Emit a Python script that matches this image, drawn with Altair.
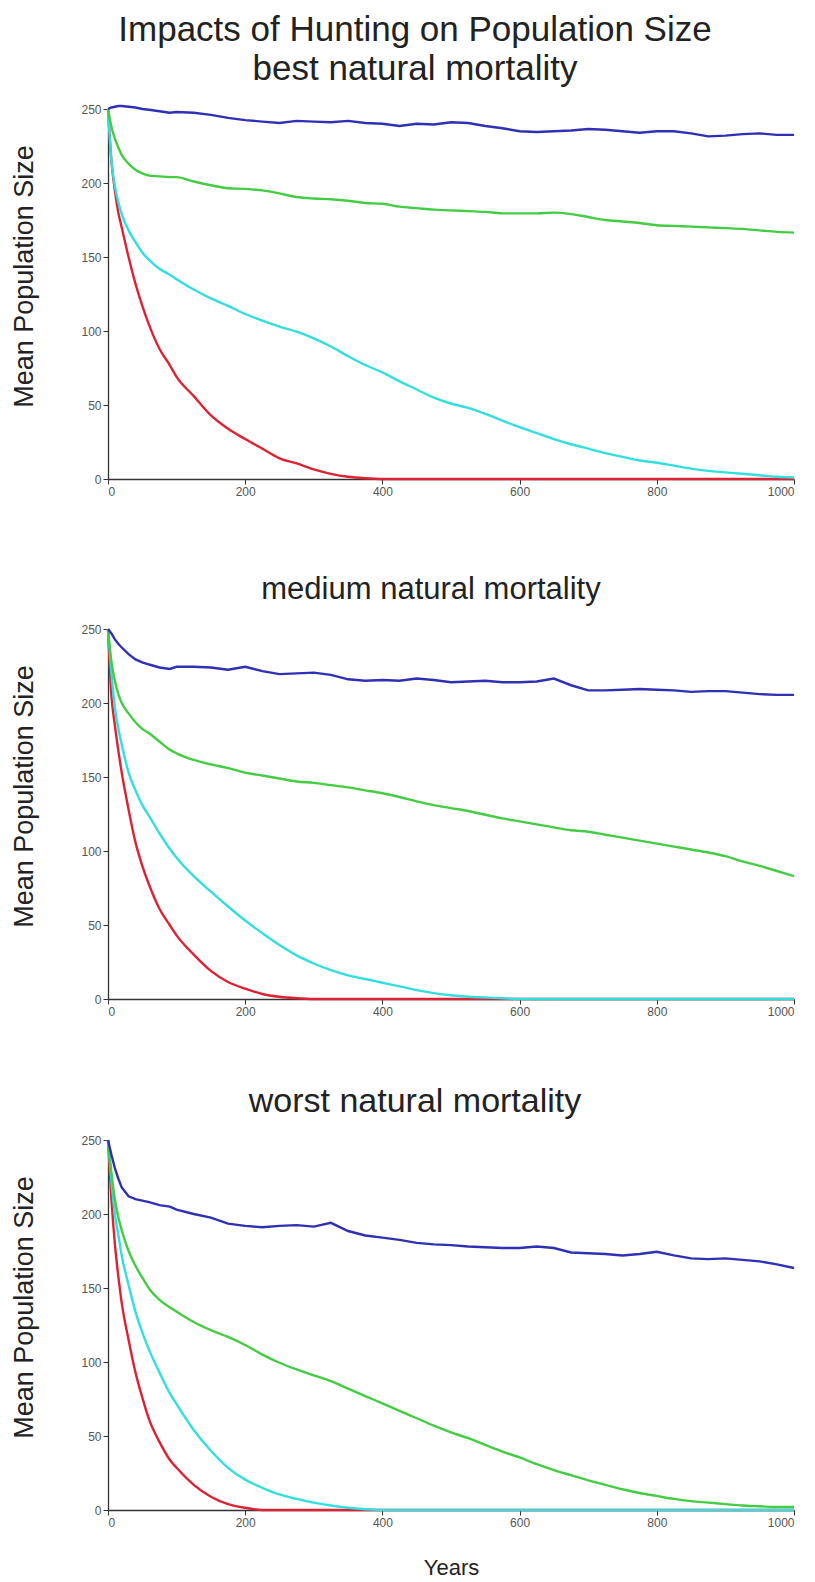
import altair as alt
import pandas as pd

YEARS = [0, 5, 10, 15, 20, 30, 40, 50, 60, 75, 90, 100,
         125, 150, 175, 200, 225, 250, 275, 300, 325, 350, 375, 400,
         425, 450, 475, 500, 525, 550, 575, 600, 625, 650, 675, 700,
         725, 750, 775, 800, 825, 850, 875, 900, 925, 950, 975, 1000]

X_TICKS = [0, 200, 400, 600, 800, 1000]
Y_TICKS = [0, 50, 100, 150, 200, 250]

TITLES = [["Impacts of Hunting on Population Size", "best natural mortality"],
          "medium natural mortality",
          "worst natural mortality"]

# ---------- best natural mortality ----------
BEST_BLUE = [250, 251, 251.5, 252, 252, 251.5, 251, 250, 249.5, 248.5, 247.5, 248,
             247.5, 246, 244, 242.5, 241.5, 240.5, 242, 241.5, 241, 242, 240.5, 240,
             238.5, 240, 239.5, 241, 240.5, 238.5, 237, 235, 234.5, 235, 235.5, 236.5,
             236, 235, 234, 235, 235, 233.5, 231.5, 232, 233, 233.5, 232.5, 232.5]
BEST_GREEN = [250, 238, 230, 224, 219, 213, 209, 206.5, 205, 204.5, 204, 204,
              201, 198.5, 196.5, 196, 195, 193, 190.5, 189.5, 189, 188, 186.5, 186,
              184, 183, 182, 181.5, 181, 180.5, 179.5, 179.5, 179.5, 180, 179, 177,
              175, 174, 173, 171.5, 171, 170.5, 170, 169.5, 169, 168, 167, 166.5]
BEST_CYAN = [250, 215, 198, 187, 179, 168, 160, 153, 148, 142, 138, 135,
             128, 122, 117, 111.5, 107, 103, 99.5, 95, 89.5, 83, 77, 72,
             66, 60.5, 55, 51, 48, 44, 39.5, 35, 31, 27, 23.5, 20.5,
             17.5, 15, 12.5, 11, 9, 7, 5.5, 4.5, 3.5, 2.5, 1.5, 1]
BEST_RED = [250, 215, 195, 180, 170, 150, 132, 117, 104, 88, 77, 69,
            56, 43, 34, 27, 20.5, 14, 10.5, 6.5, 3.5, 1.5, 0.5, 0,
            0, 0, 0, 0, 0, 0, 0, 0, 0, 0, 0, 0,
            0, 0, 0, 0, 0, 0, 0, 0, 0, 0, 0, 0]

# ---------- medium natural mortality ----------
MED_BLUE = [250, 247, 243, 240, 237.5, 233, 229.5, 227.5, 226, 224, 223, 224.5,
            224.5, 224, 222.5, 224.5, 221.5, 219.5, 220, 220.5, 219, 216, 215, 215.5,
            215, 216.5, 215.5, 214, 214.5, 215, 214, 214, 214.5, 216.5, 212, 208.5,
            208.5, 209, 209.5, 209, 208.5, 207.5, 208, 208, 207, 206, 205.5, 205.5]
MED_GREEN = [250, 228, 215, 206, 200, 193, 187, 182.5, 179.5, 174, 168.5, 166,
             161.5, 158.5, 156, 153, 151, 149, 147, 146, 144.5, 143, 141, 139,
             136.5, 133.5, 131, 129, 127, 124.5, 122, 120, 118, 116, 114, 113,
             111, 109, 107, 105, 103, 101, 99, 96.5, 93, 90, 86.5, 83]
MED_CYAN = [250, 220, 197, 183, 172, 153, 141, 131, 123.5, 112, 101.5, 95.5,
            83, 72.5, 62.5, 53, 44.5, 36.5, 29.5, 24, 19.5, 16, 13.5, 11,
            8.5, 6, 4, 2.5, 1.5, 1, 0.5, 0, 0, 0, 0, 0,
            0, 0, 0, 0, 0, 0, 0, 0, 0, 0, 0, 0]
MED_RED = [250, 205, 185, 168, 153, 128, 106, 90, 77, 61, 50, 43,
           30, 19, 11.5, 7, 3.4, 1.5, 0.5, 0, 0, 0, 0, 0,
           0, 0, 0, 0, 0, 0, 0, 0, 0, 0, 0, 0,
           0, 0, 0, 0, 0, 0, 0, 0, 0, 0, 0, 0]

# ---------- worst natural mortality ----------
WORST_BLUE = [250, 240, 231, 224, 218, 212, 210, 209, 208, 206, 205, 203,
              200, 197.5, 193.5, 192, 191, 192, 192.5, 191.5, 194, 188.5, 185.5, 184,
              182.5, 180.5, 179.5, 179, 178, 177.5, 177, 177, 178, 177, 174, 173.5,
              173, 172, 173, 174.5, 172, 170, 169.5, 170, 169, 168, 166, 163.5]
WORST_GREEN = [250, 228, 210, 198, 189, 175, 165, 157, 149.5, 142, 137, 134,
               127, 121.5, 117, 111.5, 105, 99.5, 95, 91, 87, 82, 77, 72,
               67, 62, 57, 52.5, 48.5, 44, 39.5, 35.5, 31, 27, 23.5, 20,
               17, 14, 11.5, 9.5, 7.5, 6, 5, 4, 3, 2.5, 2, 2]
WORST_CYAN = [250, 222, 200, 186, 172, 152, 134, 120, 108, 93, 79, 71.5,
              54, 40, 28.5, 20.5, 15, 10.5, 7.5, 5, 3, 1.5, 0.5, 0,
              0, 0, 0, 0, 0, 0, 0, 0, 0, 0, 0, 0,
              0, 0, 0, 0, 0, 0, 0, 0, 0, 0, 0, 0]
WORST_RED = [250, 210, 180, 158, 140, 115, 93, 76, 61, 46, 34, 28.5,
             17, 9, 4, 1.5, 0, 0, 0, 0, 0, 0, 0, 0,
             0, 0, 0, 0, 0, 0, 0, 0, 0, 0, 0, 0,
             0, 0, 0, 0, 0, 0, 0, 0, 0, 0, 0, 0]

PANELS = [
    {"red": BEST_RED, "cyan": BEST_CYAN, "green": BEST_GREEN, "blue": BEST_BLUE},
    {"red": MED_RED, "cyan": MED_CYAN, "green": MED_GREEN, "blue": MED_BLUE},
    {"red": WORST_RED, "cyan": WORST_CYAN, "green": WORST_GREEN, "blue": WORST_BLUE},
]

COLORS = {"red": "#dd2233", "cyan": "#33dede", "green": "#44cc44", "blue": "#3030b4"}
INTERP = {"red": "monotone", "cyan": "monotone", "green": "monotone", "blue": "linear"}
DRAW_ORDER = ["red", "cyan", "green", "blue"]

for p in PANELS:
    for k, v in p.items():
        assert len(v) == len(YEARS), (k, len(v))


def make_panel(series, title, title_size, title_dx, title_offset, x_title):
    layers = []
    for name in DRAW_ORDER:
        df = pd.DataFrame({"year": YEARS, "value": series[name]})
        layers.append(
            alt.Chart(df).mark_line(color=COLORS[name], strokeWidth=2.4,
                                    interpolate=INTERP[name]).encode(
                x=alt.X("year:Q",
                        scale=alt.Scale(domain=[0, 1000], nice=False),
                        axis=alt.Axis(values=X_TICKS, format="d", title=x_title)),
                y=alt.Y("value:Q",
                        scale=alt.Scale(domain=[0, 250], nice=False),
                        axis=alt.Axis(values=Y_TICKS, format="d",
                                      title="Mean Population Size")),
            )
        )
    return alt.layer(*layers).properties(
        width=686, height=370,
        title=alt.TitleParams(text=title, offset=title_offset,
                              fontSize=title_size, dx=title_dx),
    )


p1 = make_panel(PANELS[0], TITLES[0], 35, -36, 14, None)
p2 = make_panel(PANELS[1], TITLES[1], 31, -20, 17, None)
p3 = make_panel(PANELS[2], TITLES[2], 34, -36, 15, "Years")

chart = alt.vconcat(alt.vconcat(p1, p2, spacing=77), p3, spacing=68).properties(
    padding={"left": 2, "top": 5, "right": 5, "bottom": 0}
).configure_axis(
    grid=False, domainColor="#333333", tickColor="#333333", domainWidth=1.3,
    labelColor="#555555", labelFont="Liberation Sans", labelFontSize=12,
    titleFont="Liberation Sans", titleFontWeight="normal", titleColor="#222222",
    tickSize=5, labelPadding=2,
).configure_axisY(
    titleFontSize=27, titlePadding=42, titleY=167,
).configure_axisX(
    titleFontSize=22, titlePadding=29,
).configure_view(
    strokeOpacity=0,
).configure_title(
    font="Liberation Sans", fontWeight="normal", color="#222222",
    lineHeight=39, anchor="middle",
)

chart.save("out.html", embed_options={"renderer": "svg", "actions": False})
